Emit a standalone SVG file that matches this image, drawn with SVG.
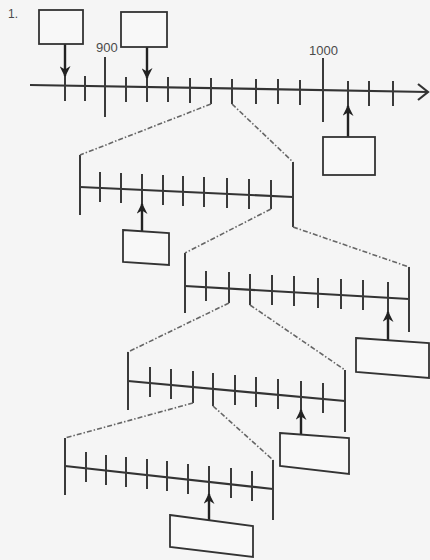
<svg xmlns="http://www.w3.org/2000/svg" width="430" height="560" viewBox="0 0 430 560">
<style>
.ln{stroke:#333;stroke-width:2.2;fill:none;stroke-linecap:butt}
.tk{stroke:#3a3a3a;stroke-width:2;fill:none}
.dd{stroke:#666;stroke-width:1.6;fill:none;stroke-dasharray:5 2 1.5 2}
.bx{stroke:#333;stroke-width:1.8;fill:#f8f8f8}
.ar{stroke:#222;stroke-width:2.4;fill:none;marker-end:url(#ah)}
.lb{font-family:"Liberation Sans",Arial,sans-serif;font-size:13px;fill:#4a4a4a}
</style>
<defs>
<marker id="ah" viewBox="0 0 10 10" refX="9" refY="5" markerWidth="12" markerHeight="11" markerUnits="userSpaceOnUse" orient="auto">
<path d="M0,0 L10,5 L0,10 L3,5 z" fill="#222"/>
</marker>
</defs>
<rect width="430" height="560" fill="#f5f5f5"/>
<text class="lb" x="8" y="18" style="font-size:12px">1.</text>
<g id="top-line">
<path class="ln" d="M30,85 L428,92"/>
<path class="ln" d="M418,84 L428,92 L418,100"/>
<path class="tk" d="M65,76V101 M85,76V101 M105,57V117 M126,77V102 M147,77V102 M168,77V102 M190,78V103 M211,78V104 M232,79V104 M256,79V104 M278,79V104 M300,80V105 M323,58V122 M348,81V106 M369,81V106 M393,81V106"/>
<text class="lb" x="96" y="52">900</text>
<text class="lb" x="309" y="55">1000</text>
</g>
<g id="line-1">
<path class="ln" d="M80,187 L293,197"/>
<path class="tk" d="M80,155V215 M293,162V227 M100,172V202 M121,173V203 M142,174V204 M163,175V205 M183,176V206 M204,177V207 M227,178V208 M249,179V209 M271,180V209"/>
</g>
<g id="line-2">
<path class="ln" d="M185,286 L409,299"/>
<path class="tk" d="M185,253V313 M409,267V332 M206,271V301 M229,272V303 M250,274V305 M272,275V305 M294,276V306 M318,278V308 M341,279V309 M363,280V310 M388,282V312"/>
</g>
<g id="line-3">
<path class="ln" d="M128,381 L345,401"/>
<path class="tk" d="M128,352V410 M345,370V432 M150,367V397 M171,369V399 M193,371V403 M213,373V406 M235,375V405 M256,377V407 M278,379V409 M301,381V411 M323,383V413"/>
</g>
<g id="line-4">
<path class="ln" d="M65,466 L273,489"/>
<path class="tk" d="M65,438V495 M273,460V520 M86,452V482 M106,455V485 M126,457V487 M147,459V489 M167,461V491 M188,464V494 M209,466V496 M231,468V498 M252,471V501"/>
</g>
<g id="connectors">
<path class="dd" d="M211,104 L80,155"/>
<path class="dd" d="M232,104 L293,162"/>
<path class="dd" d="M271,209 L185,253"/>
<path class="dd" d="M293,227 L409,267"/>
<path class="dd" d="M229,303 L128,352"/>
<path class="dd" d="M250,305 L345,370"/>
<path class="dd" d="M193,403 L65,438"/>
<path class="dd" d="M213,406 L273,460"/>
<path class="ar" d="M65,44 V76"/>
<path class="ar" d="M147,47 V78"/>
<path class="ar" d="M348,137 V106"/>
<path class="ar" d="M142,231 V204"/>
<path class="ar" d="M388,340 V312"/>
<path class="ar" d="M301,436 V410"/>
<path class="ar" d="M209,520 V494"/>
</g>
<g id="box-a"><rect class="bx" x="39" y="10" width="44" height="34"/></g>
<g id="box-b"><rect class="bx" x="121" y="12" width="46" height="35"/></g>
<g id="box-c"><rect class="bx" x="323" y="137" width="52" height="38"/></g>
<g id="box-d"><polygon class="bx" points="123,230 169,233 169,265 123,262"/></g>
<g id="box-e"><polygon class="bx" points="356,338 429,343 429,378 356,372"/></g>
<g id="box-f"><polygon class="bx" points="280,433 349,438 349,474 280,466"/></g>
<g id="box-g"><polygon class="bx" points="170,515 253,526 253,557 170,547"/></g>
</svg>
